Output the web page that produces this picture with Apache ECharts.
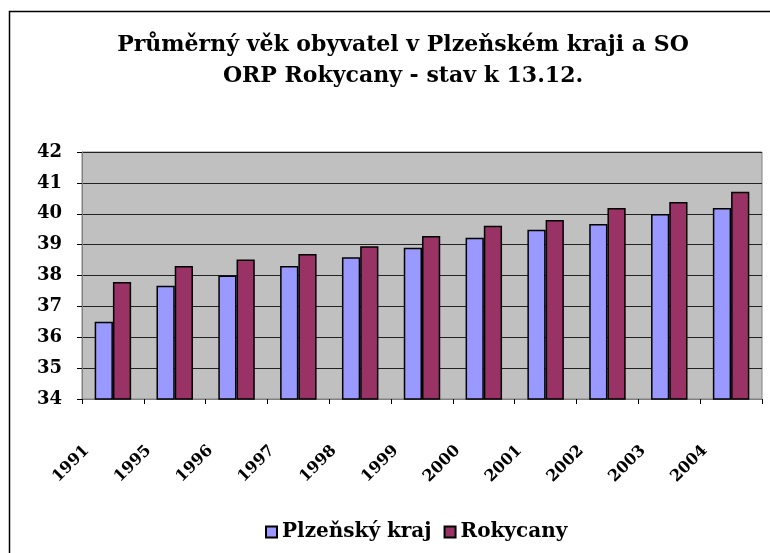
<!DOCTYPE html>
<html>
<head>
<meta charset="utf-8">
<script src="https://cdn.jsdelivr.net/npm/echarts@6/dist/echarts.min.js"></script>
<style>
  html, body { margin: 0; padding: 0; background: #fff; }
  #main { width: 770px; height: 553px; }
</style>
</head>
<body>
<div id="main"></div>
<script>
// data
var roky = ['1991', '1995', '1996', '1997', '1998', '1999', '2000', '2001', '2002', '2003', '2004'];
var plzensky = [36.5, 37.67, 38.0, 38.31, 38.59, 38.9, 39.22, 39.48, 39.67, 39.99, 40.19];
var rokycany = [37.79, 38.31, 38.52, 38.7, 38.95, 39.28, 39.61, 39.8, 40.19, 40.38, 40.71];
var nazvy = ['Plzeňský kraj', 'Rokycany'];

var font = 'DejaVu Serif';
var myChart = echarts.init(document.getElementById('main'));
var option = {
    backgroundColor: '#fff',
    animation: false,
    title: {
        text: 'Průměrný věk obyvatel v Plzeňském kraji a SO\nORP Rokycany - stav k 13.12.',
        left: 398,
        top: 25,
        textAlign: 'center',
        textStyle: {
            fontFamily: font,
            fontWeight: 'bold',
            fontSize: 22,
            lineHeight: 31,
            color: '#000'
        }
    },
    graphic: [{
        type: 'rect',
        shape: { x: 9.5, y: 11.5, width: 1000, height: 1000 },
        style: { fill: 'none', stroke: '#000', lineWidth: 1.5 },
        silent: true
    }],
    legend: {
        data: nazvy,
        left: 260,
        top: 517,
        itemWidth: 11,
        itemHeight: 11,
        itemGap: 12,
        icon: 'rect',
        textStyle: {
            fontFamily: font,
            fontWeight: 'bold',
            fontSize: 20,
            color: '#000'
        }
    },
    grid: {
        left: 82,
        right: 8,
        top: 152,
        bottom: 154,
        show: true,
        backgroundColor: '#C0C0C0',
        borderColor: '#808080',
        borderWidth: 1
    },
    xAxis: {
        type: 'category',
        data: roky,
        axisLine: { lineStyle: { color: '#808080', width: 1 } },
        axisTick: { show: true, length: 5, lineStyle: { color: '#000' } },
        axisLabel: {
            rotate: 45,
            margin: 23,
            padding: [0, 37, 0, 0],
            interval: 0,
            fontFamily: font,
            fontWeight: 'bold',
            fontSize: 16,
            color: '#000'
        }
    },
    yAxis: {
        type: 'value',
        min: 34,
        max: 42,
        interval: 1,
        axisLine: { show: true, lineStyle: { color: '#808080', width: 1 } },
        axisTick: { show: true, length: 5, lineStyle: { color: '#000' } },
        splitLine: { lineStyle: { color: '#222', width: 1 } },
        axisLabel: {
            margin: 20,
            fontFamily: font,
            fontWeight: 'bold',
            fontSize: 18,
            color: '#000'
        }
    },
    series: [
        {
            name: nazvy[0],
            type: 'bar',
            data: plzensky,
            barGap: '0%',
            barCategoryGap: '41%',
            itemStyle: { color: '#9999FF', borderColor: '#000', borderWidth: 1.5 }
        },
        {
            name: nazvy[1],
            type: 'bar',
            data: rokycany,
            itemStyle: { color: '#993366', borderColor: '#000', borderWidth: 1.5 }
        }
    ]
};
myChart.setOption(option);
</script>
</body>
</html>
